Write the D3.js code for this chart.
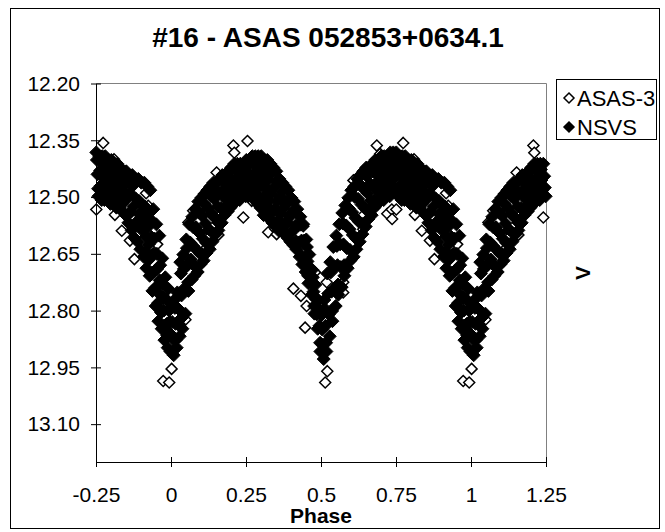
<!DOCTYPE html>
<html>
<head>
<meta charset="utf-8">
<script src="https://cdn.jsdelivr.net/npm/d3@7"></script>
<style>
  body { margin: 0; background: #fff; }
  svg { display: block; font-family: "Liberation Sans", Arial, sans-serif; }
</style>
</head>
<body>
<svg id="chart" width="665" height="532"></svg>
<script>
// phase (0..1) and V magnitude
const asas3 = [
  [0.002, 12.954], [0.048, 12.824], [0.058, 12.567], [0.074, 12.536], [0.119, 12.633],
  [0.126, 12.607], [0.158, 12.600], [0.152, 12.435], [0.208, 12.364], [0.211, 12.383],
  [0.241, 12.554], [0.255, 12.352], [0.269, 12.510], [0.280, 12.399], [0.324, 12.593],
  [0.347, 12.584], [0.352, 12.598], [0.408, 12.742], [0.433, 12.761], [0.441, 12.577],
  [0.447, 12.845], [0.452, 12.788], [0.480, 12.699], [0.514, 12.990], [0.521, 12.960],
  [0.519, 12.725], [0.574, 12.725], [0.574, 12.752], [0.608, 12.456], [0.641, 12.585],
  [0.641, 12.548], [0.669, 12.414], [0.686, 12.364], [0.697, 12.386], [0.721, 12.544],
  [0.736, 12.533], [0.737, 12.558], [0.751, 12.533], [0.774, 12.357], [0.790, 12.425],
  [0.810, 12.400], [0.813, 12.547], [0.836, 12.589], [0.863, 12.615], [0.878, 12.664],
  [0.917, 12.490], [0.924, 12.523], [0.954, 12.625], [0.974, 12.986], [0.994, 12.990]
];

const nsvs = [
  [0.001, 12.782], [0.004, 12.830], [0.006, 12.875], [0.009, 12.918],
  [0.011, 12.772], [0.013, 12.793], [0.015, 12.835], [0.017, 12.877], [0.019, 12.898],
  [0.021, 12.752], [0.024, 12.795], [0.026, 12.835], [0.029, 12.868],
  [0.031, 12.672], [0.033, 12.702], [0.035, 12.760], [0.037, 12.818], [0.038, 12.848],
  [0.041, 12.652], [0.043, 12.690], [0.046, 12.740], [0.048, 12.808],
  [0.051, 12.612], [0.053, 12.635], [0.055, 12.680], [0.057, 12.725], [0.058, 12.748],
  [0.061, 12.572], [0.064, 12.620], [0.066, 12.665], [0.069, 12.718],
  [0.071, 12.552], [0.073, 12.579], [0.075, 12.630], [0.077, 12.681], [0.078, 12.708],
  [0.081, 12.532], [0.084, 12.580], [0.086, 12.640], [0.089, 12.698],
  [0.091, 12.512], [0.093, 12.540], [0.095, 12.595], [0.097, 12.650], [0.098, 12.678],
  [0.101, 12.502], [0.104, 12.550], [0.106, 12.610], [0.109, 12.668],
  [0.111, 12.492], [0.113, 12.519], [0.115, 12.570], [0.117, 12.621], [0.118, 12.648],
  [0.121, 12.482], [0.124, 12.530], [0.126, 12.585], [0.129, 12.638],
  [0.131, 12.472], [0.133, 12.497], [0.135, 12.545], [0.137, 12.593], [0.138, 12.618],
  [0.141, 12.462], [0.144, 12.505], [0.146, 12.555], [0.149, 12.598],
  [0.151, 12.462], [0.153, 12.483], [0.155, 12.525], [0.157, 12.567], [0.158, 12.588],
  [0.161, 12.452], [0.164, 12.490], [0.166, 12.530], [0.169, 12.568],
  [0.171, 12.442], [0.173, 12.460], [0.175, 12.495], [0.177, 12.530], [0.178, 12.548],
  [0.181, 12.442], [0.184, 12.475], [0.186, 12.510], [0.189, 12.538],
  [0.191, 12.432], [0.193, 12.448], [0.195, 12.480], [0.197, 12.512], [0.198, 12.528],
  [0.201, 12.422], [0.204, 12.455], [0.206, 12.490], [0.209, 12.518],
  [0.211, 12.412], [0.213, 12.428], [0.215, 12.460], [0.217, 12.492], [0.218, 12.508],
  [0.221, 12.412], [0.224, 12.450], [0.226, 12.475], [0.229, 12.508],
  [0.231, 12.412], [0.233, 12.427], [0.235, 12.455], [0.237, 12.483], [0.238, 12.498],
  [0.241, 12.412], [0.244, 12.445], [0.246, 12.475], [0.249, 12.498],
  [0.251, 12.402], [0.253, 12.418], [0.255, 12.450], [0.257, 12.482], [0.258, 12.498],
  [0.261, 12.402], [0.264, 12.440], [0.266, 12.465], [0.269, 12.498],
  [0.271, 12.392], [0.273, 12.412], [0.275, 12.450], [0.277, 12.488], [0.278, 12.508],
  [0.281, 12.392], [0.284, 12.435], [0.286, 12.480], [0.289, 12.518],
  [0.291, 12.392], [0.293, 12.415], [0.295, 12.460], [0.297, 12.505], [0.298, 12.528],
  [0.301, 12.392], [0.304, 12.445], [0.306, 12.500], [0.309, 12.548],
  [0.311, 12.402], [0.313, 12.427], [0.315, 12.475], [0.317, 12.523], [0.318, 12.548],
  [0.321, 12.402], [0.324, 12.455], [0.326, 12.510], [0.329, 12.558],
  [0.331, 12.412], [0.333, 12.439], [0.335, 12.490], [0.337, 12.541], [0.338, 12.568],
  [0.341, 12.422], [0.344, 12.475], [0.346, 12.530], [0.349, 12.578],
  [0.351, 12.432], [0.353, 12.459], [0.355, 12.510], [0.357, 12.561], [0.358, 12.588],
  [0.361, 12.452], [0.364, 12.500], [0.366, 12.545], [0.369, 12.588],
  [0.371, 12.462], [0.373, 12.485], [0.375, 12.530], [0.377, 12.575], [0.378, 12.598],
  [0.381, 12.472], [0.384, 12.520], [0.386, 12.565], [0.389, 12.608],
  [0.391, 12.482], [0.393, 12.505], [0.395, 12.550], [0.397, 12.595], [0.398, 12.618],
  [0.401, 12.502], [0.404, 12.545], [0.406, 12.590], [0.409, 12.628],
  [0.411, 12.512], [0.413, 12.533], [0.415, 12.575], [0.417, 12.617], [0.418, 12.638],
  [0.421, 12.532], [0.424, 12.575], [0.426, 12.620], [0.429, 12.658],
  [0.431, 12.552], [0.433, 12.573], [0.435, 12.615], [0.437, 12.657], [0.438, 12.678],
  [0.441, 12.572], [0.444, 12.615], [0.446, 12.660], [0.449, 12.698],
  [0.451, 12.612], [0.453, 12.632], [0.455, 12.670], [0.457, 12.708], [0.458, 12.728],
  [0.461, 12.652], [0.464, 12.690], [0.466, 12.725], [0.469, 12.758],
  [0.471, 12.692], [0.473, 12.712], [0.475, 12.750], [0.477, 12.788], [0.478, 12.808],
  [0.481, 12.732], [0.484, 12.770], [0.486, 12.810], [0.489, 12.848],
  [0.491, 12.772], [0.493, 12.795], [0.495, 12.840], [0.497, 12.885], [0.498, 12.908],
  [0.501, 12.812], [0.504, 12.850], [0.506, 12.890], [0.509, 12.928],
  [0.511, 12.772], [0.513, 12.795], [0.515, 12.840], [0.517, 12.885], [0.518, 12.908],
  [0.521, 12.702], [0.524, 12.755], [0.526, 12.810], [0.529, 12.868],
  [0.531, 12.672], [0.533, 12.699], [0.535, 12.750], [0.537, 12.801], [0.538, 12.828],
  [0.541, 12.632], [0.544, 12.685], [0.546, 12.740], [0.549, 12.788],
  [0.551, 12.602], [0.553, 12.629], [0.555, 12.680], [0.557, 12.731], [0.558, 12.758],
  [0.561, 12.572], [0.564, 12.625], [0.566, 12.685], [0.569, 12.738],
  [0.571, 12.542], [0.573, 12.570], [0.575, 12.625], [0.577, 12.680], [0.578, 12.708],
  [0.581, 12.522], [0.584, 12.575], [0.586, 12.635], [0.589, 12.688],
  [0.591, 12.502], [0.593, 12.530], [0.595, 12.585], [0.597, 12.640], [0.598, 12.668],
  [0.601, 12.482], [0.604, 12.540], [0.606, 12.600], [0.609, 12.658],
  [0.611, 12.472], [0.613, 12.500], [0.615, 12.555], [0.617, 12.610], [0.618, 12.638],
  [0.621, 12.452], [0.624, 12.505], [0.626, 12.565], [0.629, 12.618],
  [0.631, 12.442], [0.633, 12.469], [0.635, 12.520], [0.637, 12.571], [0.638, 12.598],
  [0.641, 12.432], [0.644, 12.480], [0.646, 12.530], [0.649, 12.578],
  [0.651, 12.422], [0.653, 12.445], [0.655, 12.490], [0.657, 12.535], [0.658, 12.558],
  [0.661, 12.422], [0.664, 12.465], [0.666, 12.510], [0.669, 12.548],
  [0.671, 12.412], [0.673, 12.432], [0.675, 12.470], [0.677, 12.508], [0.678, 12.528],
  [0.681, 12.402], [0.684, 12.440], [0.686, 12.480], [0.689, 12.518],
  [0.691, 12.402], [0.693, 12.420], [0.695, 12.455], [0.697, 12.490], [0.698, 12.508],
  [0.701, 12.392], [0.704, 12.430], [0.706, 12.470], [0.709, 12.508],
  [0.711, 12.392], [0.713, 12.410], [0.715, 12.445], [0.717, 12.480], [0.718, 12.498],
  [0.721, 12.392], [0.724, 12.425], [0.726, 12.460], [0.729, 12.498],
  [0.731, 12.382], [0.733, 12.400], [0.735, 12.435], [0.737, 12.470], [0.738, 12.488],
  [0.741, 12.382], [0.744, 12.415], [0.746, 12.450], [0.749, 12.488],
  [0.751, 12.382], [0.753, 12.402], [0.755, 12.440], [0.757, 12.478], [0.758, 12.498],
  [0.761, 12.392], [0.764, 12.430], [0.766, 12.470], [0.769, 12.508],
  [0.771, 12.392], [0.773, 12.412], [0.775, 12.450], [0.777, 12.488], [0.778, 12.508],
  [0.781, 12.392], [0.784, 12.430], [0.786, 12.470], [0.789, 12.508],
  [0.791, 12.402], [0.793, 12.422], [0.795, 12.460], [0.797, 12.498], [0.798, 12.518],
  [0.801, 12.402], [0.804, 12.445], [0.806, 12.485], [0.809, 12.518],
  [0.811, 12.412], [0.813, 12.432], [0.815, 12.470], [0.817, 12.508], [0.818, 12.528],
  [0.821, 12.412], [0.824, 12.455], [0.826, 12.495], [0.829, 12.528],
  [0.831, 12.422], [0.833, 12.442], [0.835, 12.480], [0.837, 12.518], [0.838, 12.538],
  [0.841, 12.432], [0.844, 12.470], [0.846, 12.510], [0.849, 12.548],
  [0.851, 12.432], [0.853, 12.455], [0.855, 12.500], [0.857, 12.545], [0.858, 12.568],
  [0.861, 12.442], [0.864, 12.490], [0.866, 12.540], [0.869, 12.588],
  [0.871, 12.442], [0.873, 12.470], [0.875, 12.525], [0.877, 12.580], [0.878, 12.608],
  [0.881, 12.452], [0.884, 12.505], [0.886, 12.565], [0.889, 12.618],
  [0.891, 12.452], [0.893, 12.510], [0.894, 12.545], [0.896, 12.575], [0.898, 12.638],
  [0.901, 12.462], [0.903, 12.555], [0.904, 12.520], [0.906, 12.590], [0.909, 12.658],
  [0.911, 12.462], [0.913, 12.525], [0.914, 12.565], [0.916, 12.605], [0.917, 12.645], [0.918, 12.688],
  [0.921, 12.472], [0.922, 12.580], [0.924, 12.540], [0.926, 12.625], [0.927, 12.665], [0.929, 12.708],
  [0.931, 12.482], [0.933, 12.560], [0.934, 12.605], [0.936, 12.655], [0.937, 12.700], [0.938, 12.748],
  [0.941, 12.532], [0.942, 12.650], [0.944, 12.610], [0.946, 12.695], [0.947, 12.740], [0.949, 12.788],
  [0.951, 12.572], [0.953, 12.650], [0.954, 12.690], [0.956, 12.735], [0.957, 12.780], [0.958, 12.828],
  [0.961, 12.602], [0.962, 12.720], [0.964, 12.680], [0.966, 12.760], [0.967, 12.805], [0.969, 12.848],
  [0.971, 12.662], [0.973, 12.730], [0.975, 12.765], [0.976, 12.800], [0.977, 12.840], [0.978, 12.878],
  [0.981, 12.712], [0.984, 12.770], [0.986, 12.835], [0.987, 12.865], [0.989, 12.898],
  [0.991, 12.742], [0.993, 12.800], [0.995, 12.830], [0.996, 12.860], [0.998, 12.908]
];

const xTicks = [-0.25, 0, 0.25, 0.5, 0.75, 1, 1.25];
const yTicks = [12.2, 12.35, 12.5, 12.65, 12.8, 12.95, 13.1];
const seriesNames = ['ASAS-3', 'NSVS'];

const svg = d3.select('#chart');
const plotLeft = 96, plotRight = 546, plotTop = 83.5, plotBottom = 462;

const x = d3.scaleLinear().domain([-0.25, 1.25]).range([plotLeft, plotRight]);
const y = d3.scaleLinear().domain([12.2, 13.2]).range([plotTop, plotBottom]);

// outer chart border
svg.append('rect')
  .attr('x', 10.5).attr('y', 8.5)
  .attr('width', 649).attr('height', 520)
  .attr('fill', '#fff').attr('stroke', '#000');

// plot area frame (grey top/right)
svg.append('path')
  .attr('d', `M${plotLeft},${plotTop}H${plotRight + 0.5}V${plotBottom}`)
  .attr('fill', 'none').attr('stroke', '#808080');

svg.append('text')
  .attr('x', 328).attr('y', 47)
  .attr('text-anchor', 'middle')
  .attr('font-size', 28).attr('font-weight', 'bold')
  .text('#16 - ASAS 052853+0634.1');

// the phased curve is shown twice: points are repeated one cycle left/right
const unfold = (data) => {
  const out = [];
  data.forEach(([p, m]) => {
    out.push([p, m]);
    if (p + 1 <= 1.25) out.push([p + 1, m]);
    if (p - 1 >= -0.25) out.push([p - 1, m]);
  });
  return out;
};

const diamond = (r) => `M0,${-r}L${r},0L0,${r}L${-r},0Z`;

svg.append('g')
  .selectAll('path')
  .data(unfold(asas3))
  .enter()
  .append('path')
  .attr('d', diamond(5.5))
  .attr('transform', (d) => `translate(${x(d[0])},${y(d[1])})`)
  .attr('fill', '#fff')
  .attr('stroke', '#000')
  .attr('stroke-width', 1.5);

svg.append('g')
  .selectAll('path')
  .data(unfold(nsvs))
  .enter()
  .append('path')
  .attr('d', diamond(6.5))
  .attr('transform', (d) => `translate(${x(d[0])},${y(d[1])})`)
  .attr('fill', '#000')
  .attr('stroke', '#000')
  .attr('stroke-width', 1);

// axes
const yAxis = svg.append('g')
  .attr('transform', `translate(${plotLeft},0)`)
  .call(d3.axisLeft(y).tickValues(yTicks).tickFormat(d3.format('.2f'))
    .tickSize(5).tickSizeOuter(0).tickPadding(11));
yAxis.selectAll('.tick line').attr('x1', 5);

const xAxis = svg.append('g')
  .attr('transform', `translate(0,${plotBottom})`)
  .call(d3.axisBottom(x).tickValues(xTicks).tickFormat((d) => String(d))
    .tickSize(5).tickSizeOuter(0).tickPadding(20));
xAxis.selectAll('.tick line').attr('y1', -5);

[yAxis, xAxis].forEach((g) => {
  g.attr('font-size', 21).attr('font-family', null);
  g.selectAll('.tick text').attr('fill', '#000');
  g.selectAll('line, path').attr('stroke', '#000');
});

svg.append('text')
  .attr('x', (plotLeft + plotRight) / 2).attr('y', 523)
  .attr('text-anchor', 'middle')
  .attr('font-size', 21).attr('font-weight', 'bold')
  .text('Phase');

svg.append('text')
  .attr('transform', `translate(590,273) rotate(-90)`)
  .attr('text-anchor', 'middle')
  .attr('font-size', 21).attr('font-weight', 'bold')
  .text('V');

// legend
const legend = svg.append('g');
legend.append('rect')
  .attr('x', 556.5).attr('y', 79.5)
  .attr('width', 100).attr('height', 60)
  .attr('fill', '#fff').attr('stroke', '#000');

seriesNames.forEach((name, i) => {
  const ly = 98 + i * 29;
  legend.append('path')
    .attr('d', diamond(5))
    .attr('transform', `translate(569,${ly})`)
    .attr('fill', i === 0 ? '#fff' : '#000')
    .attr('stroke', '#000')
    .attr('stroke-width', 1.5);
  legend.append('text')
    .attr('x', 577).attr('y', ly + 7.5)
    .attr('font-size', 22)
    .text(name);
});
</script>
</body>
</html>
